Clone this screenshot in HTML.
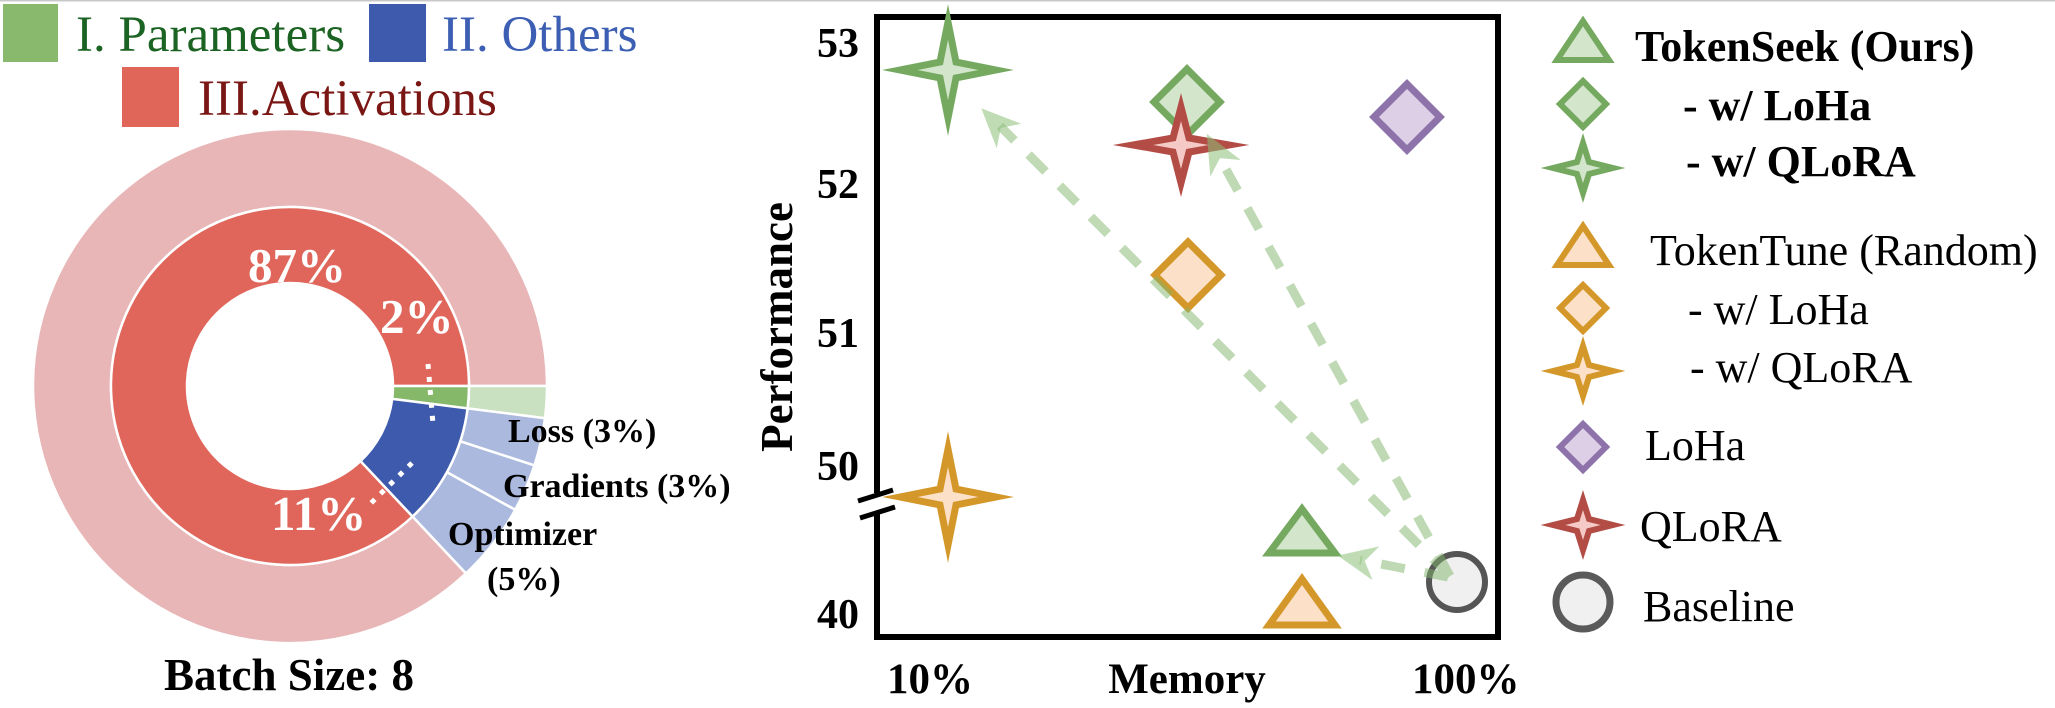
<!DOCTYPE html>
<html><head><meta charset="utf-8"><style>
html,body{margin:0;padding:0;background:#fff;}
svg{display:block;}
text{font-family:"Liberation Serif","Times New Roman",serif;}
</style></head><body>
<svg width="2055" height="708" viewBox="0 0 2055 708" xmlns="http://www.w3.org/2000/svg">
<rect x="0" y="0" width="2055" height="708" fill="#fff"/>
<line x1="0" y1="0.5" x2="2055" y2="0.5" stroke="#c8c8c8" stroke-width="2"/>

<!-- Left legend -->
<rect x="3" y="4" width="55" height="58" fill="#88b96d"/>
<text x="76" y="51" font-size="51" fill="#1b6322">I. Parameters</text>
<rect x="369" y="4" width="57" height="58" fill="#3d5aad"/>
<text x="442" y="51" font-size="51" fill="#3d5fb3">II. Others</text>
<rect x="122" y="67" width="57" height="60" fill="#e0665a"/>
<text x="198" y="115" font-size="51" fill="#7a1714">III.Activations</text>

<!-- Donut -->
<g stroke="#fff" stroke-width="2.5">
<path d="M465.93,573.35 A257,257 0 1 1 547,386 L469,386 A179,179 0 1 0 412.53,516.49 Z" fill="#e8b6b7"/>
<path d="M547,386 A257,257 0 0 1 544.97,418.21 L467.59,408.43 A179,179 0 0 0 469,386 Z" fill="#c9e0c1"/>
<path d="M544.97,418.21 A257,257 0 0 1 534.42,465.42 L460.24,441.31 A179,179 0 0 0 467.59,408.43 Z" fill="#abb9de"/>
<path d="M534.42,465.42 A257,257 0 0 1 515.21,509.81 L446.86,472.23 A179,179 0 0 0 460.24,441.31 Z" fill="#abb9de"/>
<path d="M515.21,509.81 A257,257 0 0 1 465.93,573.35 L412.53,516.49 A179,179 0 0 0 446.86,472.23 Z" fill="#abb9de"/>
<path d="M412.53,516.49 A179,179 0 1 1 469,386 L393,386 A103,103 0 1 0 360.51,461.08 Z" fill="#e0655a"/>
<path d="M469,386 A179,179 0 0 1 467.59,408.43 L392.19,398.91 A103,103 0 0 0 393,386 Z" fill="#86b86a"/>
<path d="M467.59,408.43 A179,179 0 0 1 412.53,516.49 L360.51,461.08 A103,103 0 0 0 392.19,398.91 Z" fill="#3d5aad"/>
</g>
<line x1="428" y1="364" x2="433" y2="424" stroke="#fff" stroke-width="5" stroke-dasharray="5 8"/>
<line x1="412" y1="463" x2="366" y2="508" stroke="#fff" stroke-width="5" stroke-dasharray="5 8"/>
<g font-weight="bold" fill="#fff" font-size="49">
<text x="248" y="282">87%</text>
<text x="380" y="333">2%</text>
<text x="271" y="530">11%</text>
</g>
<g font-weight="bold" fill="#000" font-size="34">
<text x="508" y="442">Loss (3%)</text>
<text x="503" y="497">Gradients (3%)</text>
<text x="448" y="545">Optimizer</text>
<text x="487" y="590">(5%)</text>
</g>
<text x="164" y="690" font-weight="bold" font-size="45">Batch Size: 8</text>

<!-- Scatter plot -->
<g font-weight="bold" font-size="42" text-anchor="end">
<text x="859" y="57">53</text>
<text x="859" y="198">52</text>
<text x="859" y="347">51</text>
<text x="859" y="480">50</text>
<text x="859" y="628">40</text>
</g>
<text transform="translate(792,327) rotate(-90)" text-anchor="middle" font-weight="bold" font-size="45">Performance</text>
<g font-weight="bold" font-size="43">
<text x="887" y="693">10%</text>
<text x="1187" y="693" text-anchor="middle">Memory</text>
<text x="1412" y="693">100%</text>
</g>
<!-- frame -->
<path d="M877,493 L877,17 L1498,17 L1498,637 L877,637 L877,514" fill="none" stroke="#000" stroke-width="6"/>
<line x1="858" y1="501" x2="893" y2="490" stroke="#000" stroke-width="5"/>
<line x1="860" y1="518" x2="895" y2="507" stroke="#000" stroke-width="5"/>

<!-- markers -->
<g stroke-width="7" stroke-linejoin="miter" stroke-miterlimit="20">
<path transform="translate(948,70)" d="M0,-48 L8,-8 L48,0 L8,8 L0,48 L-8,8 L-48,0 L-8,-8Z" fill="#d3e6cc" stroke="#76a960"/>
<path transform="translate(948,497)" d="M0,-48 L8,-8 L48,0 L8,8 L0,48 L-8,8 L-48,0 L-8,-8Z" fill="#fde0c8" stroke="#d4982a"/>
<path transform="translate(1187,102)" d="M0,-33 L33,0 L0,33 L-33,0Z" fill="#d3e6cc" stroke="#76a960"/>
<path transform="translate(1181,145)" d="M0,-38 L8,-7 L48,0 L8,7 L0,38 L-8,7 L-48,0 L-8,-7Z" fill="#f5c9c6" stroke="#b24c45"/>
<path transform="translate(1407,117)" d="M0,-33 L33,0 L0,33 L-33,0Z" fill="#ddd0e6" stroke="#8e72aa"/>
<path transform="translate(1188,275)" d="M0,-33 L33,0 L0,33 L-33,0Z" fill="#fde0c8" stroke="#d4982a"/>
<path d="M1302,509 L1335,553 L1269,553Z" fill="#d3e6cc" stroke="#76a960"/>
<path d="M1302,579 L1335,625 L1269,625Z" fill="#fde0c8" stroke="#d4982a"/>
<circle cx="1457" cy="582" r="28" fill="#f0f0f0" stroke="#555" stroke-width="6"/>
</g>

<!-- arrows -->
<g opacity="0.5" stroke="#7fb56a" fill="none" stroke-width="9" stroke-dasharray="24 20">
<line x1="1450" y1="576" x2="1000" y2="126"/>
<line x1="1450" y1="576" x2="1217" y2="153"/>
<line x1="1448" y1="577" x2="1360" y2="560"/>
</g>
<g opacity="0.55" fill="#8cc079" stroke="#8cc079" stroke-width="2">
<path transform="translate(983,110) rotate(45)" d="M0,0 L34,-15 L24,0 L34,15Z"/>
<path transform="translate(1208,136) rotate(61.5)" d="M0,0 L34,-15 L24,0 L34,15Z"/>
<path transform="translate(1340,556) rotate(11.4)" d="M0,0 L34,-15 L24,0 L34,15Z"/>
</g>

<!-- right legend -->
<g stroke-width="6" stroke-linejoin="miter" stroke-miterlimit="20">
<path d="M1583,21 L1609,60 L1557,60Z" fill="#d3e6cc" stroke="#76a960"/>
<path transform="translate(1583,104)" d="M0,-23 L23,0 L0,23 L-23,0Z" fill="#d3e6cc" stroke="#76a960"/>
<path transform="translate(1583,168)" d="M0,-25 L6,-6 L30,0 L6,6 L0,25 L-6,6 L-30,0 L-6,-6Z" fill="#d3e6cc" stroke="#76a960"/>
<path d="M1583,226 L1609,265 L1557,265Z" fill="#fde0c8" stroke="#d4982a"/>
<path transform="translate(1583,308)" d="M0,-23 L23,0 L0,23 L-23,0Z" fill="#fde0c8" stroke="#d4982a"/>
<path transform="translate(1583,371)" d="M0,-25 L6,-6 L30,0 L6,6 L0,25 L-6,6 L-30,0 L-6,-6Z" fill="#fde0c8" stroke="#d4982a"/>
<path transform="translate(1583,447)" d="M0,-23 L23,0 L0,23 L-23,0Z" fill="#ddd0e6" stroke="#8e72aa"/>
<path transform="translate(1583,525)" d="M0,-25 L6,-6 L30,0 L6,6 L0,25 L-6,6 L-30,0 L-6,-6Z" fill="#f5c9c6" stroke="#b24c45"/>
<circle cx="1583" cy="602" r="27" fill="#f0f0f0" stroke="#5a5a5a" stroke-width="7"/>
</g>
<g font-size="44" fill="#000">
<text x="1635" y="61" font-weight="bold">TokenSeek (Ours)</text>
<text x="1683" y="120" font-weight="bold">- w/ LoHa</text>
<text x="1686" y="176" font-weight="bold">- w/ QLoRA</text>
<text x="1650" y="265">TokenTune (Random)</text>
<text x="1688" y="324">- w/ LoHa</text>
<text x="1690" y="382">- w/ QLoRA</text>
<text x="1645" y="460">LoHa</text>
<text x="1640" y="541">QLoRA</text>
<text x="1643" y="621">Baseline</text>
</g>
</svg>
</body></html>
